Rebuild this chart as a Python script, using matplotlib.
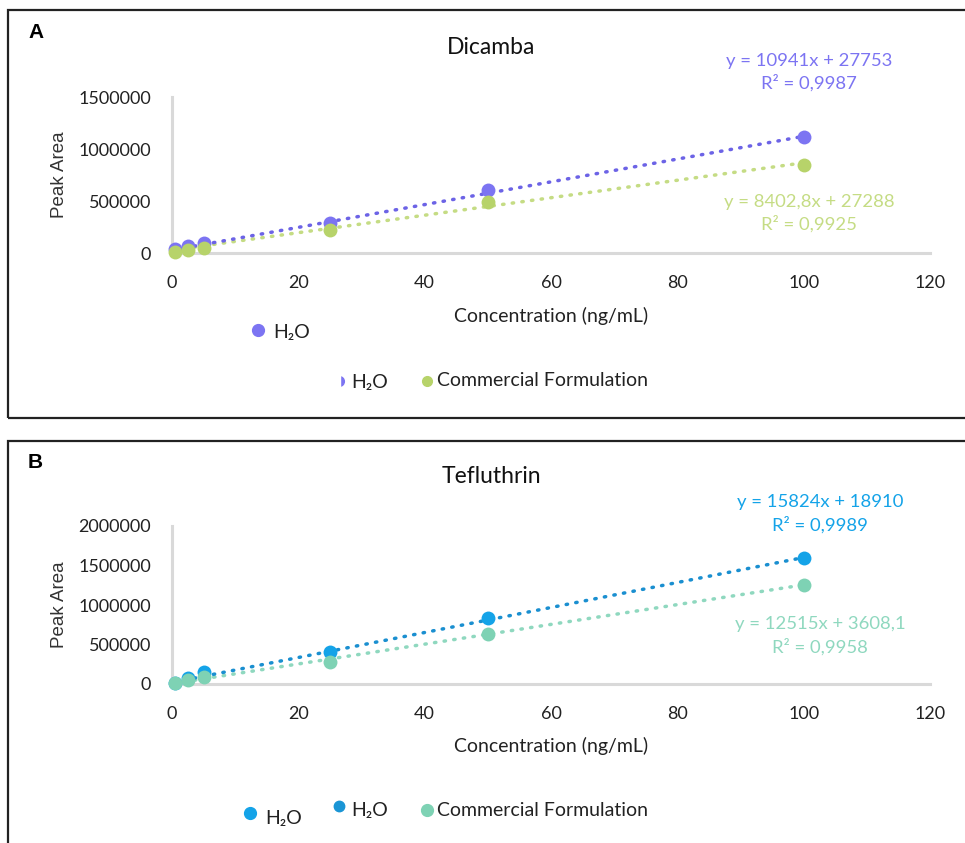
import matplotlib
matplotlib.use("Agg")
import matplotlib.pyplot as plt
import numpy as np
from matplotlib.patches import Rectangle
from matplotlib.lines import Line2D

plt.rcParams['font.family'] = ['Lato', 'DejaVu Sans']

# ---------------- data ----------------
conc = [0.5, 2.5, 5, 25, 50, 100]

dicamba_h2o = [38000, 67000, 96000, 290000, 606000, 1115000]
dicamba_cf = [10000, 29000, 48000, 221000, 492000, 846000]
dicamba_fit_h2o = (10941, 27753)
dicamba_fit_cf = (8402.8, 27288)
dicamba_eq_h2o = ["y = 10941x + 27753", "R² = 0,9987"]
dicamba_eq_cf = ["y = 8402,8x + 27288", "R² = 0,9925"]

teflu_h2o = [12000, 70000, 150000, 405000, 835000, 1595000]
teflu_cf = [8000, 50000, 85000, 278000, 633000, 1253000]
teflu_fit_h2o = (15824, 18910)
teflu_fit_cf = (12515, 3608.1)
teflu_eq_h2o = ["y = 15824x + 18910", "R² = 0,9989"]
teflu_eq_cf = ["y = 12515x + 3608,1", "R² = 0,9958"]

xticks = [0, 20, 40, 60, 80, 100, 120]
yticks_a = [0, 500000, 1000000, 1500000]
yticks_b = [0, 500000, 1000000, 1500000, 2000000]

# ---------------- figure ----------------
W, H = 965, 843
fig = plt.figure(figsize=(W / 100, H / 100), dpi=100)


def fx(px):
    return px / W


def fy(py):
    return 1 - py / H


# panel borders
fig.add_artist(Rectangle((fx(8), fy(418)), fx(980) - fx(8), fy(10) - fy(418),
                         transform=fig.transFigure, fill=False, lw=1.6, ec='#222222'))
fig.add_artist(Rectangle((fx(8), fy(860)), fx(980) - fx(8), fy(441) - fy(860),
                         transform=fig.transFigure, fill=False, lw=1.6, ec='#222222'))
fig.text(fx(28), fy(33), "A", fontsize=15, fontweight='bold', va='center', ha='left',
         family=['Liberation Sans', 'DejaVu Sans'])
fig.text(fx(28), fy(463), "B", fontsize=15, fontweight='bold', va='center', ha='left',
         family=['Liberation Sans', 'DejaVu Sans'])

TICK_FS = 13
EQ_FS = 13.3
GRAY = '#D9D9D9'


def make_axes(top_px, bottom_px, yticks, ymax):
    ax = fig.add_axes([fx(172), fy(bottom_px), fx(930) - fx(172), fy(top_px) - fy(bottom_px)])
    ax.set_xlim(0, 120)
    ax.set_ylim(0, ymax)
    ax.set_xticks(xticks)
    ax.set_yticks(yticks)
    ax.set_xticklabels([str(t) for t in xticks])
    ax.set_yticklabels([str(t) for t in yticks])
    for s in ['top', 'right']:
        ax.spines[s].set_visible(False)
    for s in ['left', 'bottom']:
        ax.spines[s].set_color(GRAY)
        ax.spines[s].set_linewidth(2.2)
    ax.tick_params(length=0, labelsize=TICK_FS, labelcolor='#222222')
    ax.tick_params(axis='x', pad=16)
    ax.tick_params(axis='y', pad=15)
    ax.patch.set_alpha(0)
    return ax


def trend(ax, fit, color):
    xs = np.array([conc[0], conc[-1]])
    ax.plot(xs, fit[0] * xs + fit[1], color=color, lw=2.5,
            linestyle=(0, (0.4, 2.4)), dash_capstyle='round', zorder=2, clip_on=False)


def panel(ax, title, h2o, cf, fit_h2o, fit_cf, c_h2o, c_cf, ct_h2o, ct_cf,
          eq_h2o, eq_cf, eq_pos_h2o, eq_pos_cf, title_py, xl_py, yl_py, eq_gap):
    trend(ax, fit_cf, ct_cf)
    trend(ax, fit_h2o, ct_h2o)
    ax.scatter(conc, h2o, s=100, color=c_h2o, zorder=3, clip_on=False, linewidths=0)
    ax.scatter(conc, cf, s=100, color=c_cf, zorder=4, clip_on=False, linewidths=0)
    fig.text(fx(491), fy(title_py), title, fontsize=16.5, ha='center', va='center', color='#111111')
    fig.text(fx(551), fy(xl_py), "Concentration (ng/mL)", fontsize=14, ha='center',
             va='center', color='#222222')
    fig.text(fx(60), fy(yl_py), "Peak Area", fontsize=13.5, ha='center', va='center',
             rotation=90, color='#333333', family=['Liberation Sans', 'DejaVu Sans'])
    for (px, py), lines, col in [(eq_pos_h2o, eq_h2o, c_h2o), (eq_pos_cf, eq_cf, ct_cf)]:
        fig.text(fx(px), fy(py), lines[0], fontsize=EQ_FS, ha='center', va='center', color=col)
        fig.text(fx(px), fy(py + eq_gap), lines[1], fontsize=EQ_FS, ha='center', va='center', color=col)


# ---- Panel A ----
axA = make_axes(97, 253, yticks_a, 1500000)
panel(axA, "Dicamba", dicamba_h2o, dicamba_cf, dicamba_fit_h2o, dicamba_fit_cf,
      '#7C74F2', '#B7D36A', '#6C63E6', '#C5DC84',
      dicamba_eq_h2o, dicamba_eq_cf, (809, 61), (809, 202), 47, 316, 175, 22)

# ---- Panel B ----
axB = make_axes(526, 684, yticks_b, 2000000)
panel(axB, "Tefluthrin", teflu_h2o, teflu_cf, teflu_fit_h2o, teflu_fit_cf,
      '#14A3E8', '#7ED2B4', '#1A8FD0', '#8FD8BF',
      teflu_eq_h2o, teflu_eq_cf, (820, 502), (820, 624), 477, 746, 605, 23)

# ---------------- legends ----------------
LEG_FS = 14


def legend_item(px, py, label, color, ms=8.5, text_dx=10, text_dy=0):
    fig.add_artist(Line2D([fx(px)], [fy(py)], marker='o', ms=ms, color=color, lw=0,
                          transform=fig.transFigure))
    fig.text(fx(px + text_dx), fy(py + text_dy), label, fontsize=LEG_FS, ha='left', va='center',
             color='#222222')


# Panel A legends
legend_item(258, 330, "H₂O", '#7C74F2', text_dx=15, text_dy=3)
legend_item(339, 381, "H₂O", '#7C74F2', ms=7, text_dx=12, text_dy=2)
legend_item(427, 381, "Commercial Formulation", '#B7D36A', ms=7, text_dx=10)
# cover left half of the clipped marker
fig.add_artist(Rectangle((fx(330), fy(390)), fx(339.5) - fx(330), fy(372) - fy(390),
                         transform=fig.transFigure, color='white', zorder=5))

# Panel B legends
legend_item(250, 813, "H₂O", '#14A3E8', text_dx=15, text_dy=5)
legend_item(339, 806, "H₂O", '#1A95D5', ms=7.5, text_dx=12, text_dy=4)
legend_item(427, 810, "Commercial Formulation", '#7ED2B4', ms=8.5, text_dx=10)

fig.savefig("out.png", dpi=100)
